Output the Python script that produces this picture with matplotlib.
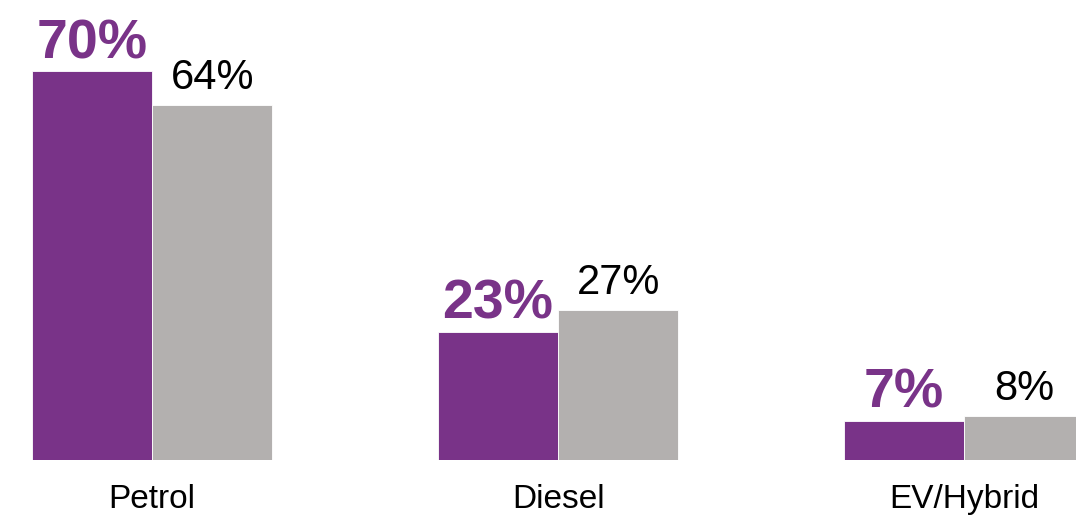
import matplotlib.pyplot as plt
import numpy as np

# data
categories = ["Petrol", "Diesel", "EV/Hybrid"]
purple_vals = [70, 23, 7]
grey_vals = [64, 27, 8]

PURPLE = "#793388"
GREY = "#b3b0af"

plt.rcParams['font.family'] = ['Liberation Sans', 'DejaVu Sans']

fig = plt.figure(figsize=(10.76, 5.17), dpi=100)
ax = fig.add_axes([0, 57 / 517, 1, 444 / 517])

x = np.arange(len(categories))
w = 0.296
b1 = ax.bar(x - w / 2, purple_vals, w, color=PURPLE, edgecolor="white", linewidth=0.6)
b2 = ax.bar(x + w / 2, grey_vals, w, color=GREY, edgecolor="white", linewidth=0.6)

for r, v in zip(b1, purple_vals):
    ax.annotate(f"{v}%", (r.get_x() + r.get_width() / 2, r.get_height()),
                xytext=(0, 1), textcoords="offset points", ha="center", va="bottom",
                fontsize=40, fontweight="bold", color=PURPLE)
for r, v in zip(b2, grey_vals):
    ax.annotate(f"{v}%", (r.get_x() + r.get_width() / 2, r.get_height()),
                xytext=(0, 5), textcoords="offset points", ha="center", va="bottom",
                fontsize=30, color="black")

# x from pixel 32 to 1076 -> figure spans 0..1076
ppu = 406.0
left = -w - 32 / ppu
ax.set_xlim(left, left + 1076 / ppu)
ax.set_ylim(0, 80)
ax.set_xticks(x)
ax.set_xticklabels(categories, fontsize=24)
ax.tick_params(axis="x", length=0, pad=17)
ax.set_yticks([])
for s in ['top', 'bottom', 'left', 'right']:
    ax.spines[s].set_visible(False)

fig.savefig("out.png", dpi=100)
